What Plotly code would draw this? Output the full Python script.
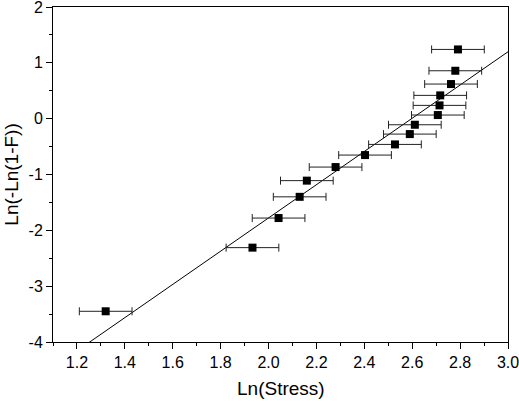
import plotly.graph_objects as go
import numpy as np

# Data
ln_stress = [1.32, 1.933, 2.042, 2.13, 2.16, 2.28, 2.403, 2.528, 2.59, 2.611,
             2.707, 2.714, 2.717, 2.762, 2.78, 2.791]
ln_ln = [-3.45, -2.31, -1.78, -1.40, -1.11, -0.867, -0.652, -0.461, -0.276, -0.109,
         0.065, 0.238, 0.417, 0.62, 0.858, 1.24]
x_err = [0.11] * len(ln_stress)

# Fitted line parameters
fit_slope = 2.976
fit_intercept = -7.73

x_range = [1.1, 3.0]
y_range = [-4, 2]
x_ticks = [1.2, 1.4, 1.6, 1.8, 2.0, 2.2, 2.4, 2.6, 2.8, 3.0]
x_ticklabels = ["1.2", "1.4", "1.6", "1.8", "2.0", "2.2", "2.4", "2.6", "2.8", "3.0"]
y_ticks = [-4, -3, -2, -1, 0, 1, 2]
y_ticklabels = ["-4", "-3", "-2", "-1", "0", "1", "2"]
x_title = "Ln(Stress)"
y_title = "Ln(-Ln(1-F))"

FONT = "Liberation Sans, Arial, sans-serif"

xl = np.array(x_range)
yl = fit_slope * xl + fit_intercept

fig = go.Figure()
fig.add_trace(go.Scatter(
    x=xl, y=yl, mode="lines",
    line=dict(color="black", width=1),
    showlegend=False, hoverinfo="skip"))
fig.add_trace(go.Scatter(
    x=ln_stress, y=ln_ln, mode="markers",
    marker=dict(symbol="square", size=8, color="black"),
    error_x=dict(type="data", array=x_err, color="#222222", thickness=1, width=4),
    showlegend=False))

axis_common = dict(
    showline=True, linecolor="black", linewidth=1, mirror=True,
    showgrid=False, zeroline=False, automargin=False,
    ticks="outside", tickcolor="black", tickwidth=1, ticklen=6,
    ticklabeloverflow="allow",
    tickfont=dict(family=FONT, size=16, color="black"),
)

fig.update_xaxes(
    range=x_range, tickmode="array", tickvals=x_ticks, ticktext=x_ticklabels,
    minor=dict(dtick=0.1, tick0=1.1, ticks="outside", ticklen=3, tickcolor="black", showgrid=False),
    **axis_common)
fig.update_yaxes(
    range=y_range, tickmode="array", tickvals=y_ticks, ticktext=y_ticklabels,
    minor=dict(dtick=0.5, tick0=-4, ticks="outside", ticklen=3, tickcolor="black", showgrid=False),
    **axis_common)

fig.add_annotation(text=x_title, xref="paper", yref="paper", x=0.5, y=-0.138,
                   xanchor="center", yanchor="middle", showarrow=False,
                   font=dict(family=FONT, size=19, color="black"))
fig.add_annotation(text=y_title, xref="paper", yref="paper", x=-0.092, y=0.5,
                   xanchor="center", yanchor="middle", showarrow=False, textangle=-90,
                   font=dict(family=FONT, size=19, color="black"))

fig.update_layout(
    width=519, height=401,
    margin=dict(l=53, r=11, t=7, b=59),
    plot_bgcolor="white", paper_bgcolor="white",
)

fig.write_html("out.html", config={"displayModeBar": False},
               post_script="document.body.style.margin='0';document.body.style.overflow='hidden';")
